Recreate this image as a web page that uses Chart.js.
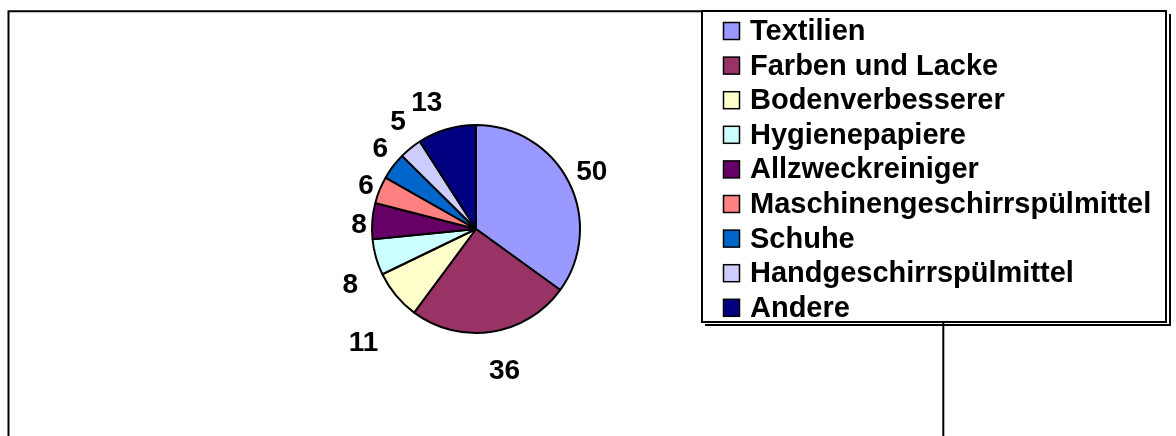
<!DOCTYPE html>
<html lang="de">

<head>
    <meta charset="UTF-8">
    <title>Produktgruppen</title>
    <script src="https://cdn.jsdelivr.net/npm/chart.js"></script>
    <style>
        body {
            margin: 0;
            background: #fff;
        }

        #wrap {
            width: 1176px;
            height: 436px;
        }
    </style>
</head>

<body>
    <div id="wrap"><canvas id="pieChart" width="1176" height="436"></canvas></div>

    <script>
        const categories = ["Textilien", "Farben und Lacke", "Bodenverbesserer", "Hygienepapiere",
            "Allzweckreiniger", "Maschinengeschirrspülmittel", "Schuhe", "Handgeschirrspülmittel", "Andere"
        ];
        const values = [50, 36, 11, 8, 8, 6, 6, 5, 13];
        const colors = ["#9999FF", "#993366", "#FFFFCC", "#CCFFFF", "#660066", "#FF8080", "#0066CC", "#CCCCFF",
            "#000080"
        ];

        // label placement outside the pie: extra distance (px) and angle turn (deg)
        const labelGap = [26, 39, 55, 33, 13, 15, 22, 30, 33];
        const labelTurn = [0, -2.7, -5.3, -7.6, -1.4, 0.4, 3.4, 3.5, -4.7];

        const FONT = '"Liberation Sans", Arial, sans-serif';

        const framePlugin = {
            id: 'frame',
            beforeDraw(chart) {
                const ctx = chart.ctx;
                ctx.save();
                ctx.strokeStyle = '#000';
                ctx.lineWidth = 2;
                ctx.beginPath();
                ctx.moveTo(8.5, 440);
                ctx.lineTo(8.5, 11.3);
                ctx.lineTo(943.3, 11.3);
                ctx.lineTo(943.3, 440);
                ctx.stroke();
                ctx.restore();
            }
        };

        const valueLabels = {
            id: 'valueLabels',
            afterDatasetsDraw(chart) {
                const ctx = chart.ctx;
                const meta = chart.getDatasetMeta(0);
                ctx.save();
                ctx.font = 'bold 28px ' + FONT;
                ctx.fillStyle = '#000';
                ctx.textAlign = 'center';
                ctx.textBaseline = 'alphabetic';
                meta.data.forEach((arc, i) => {
                    const mid = (arc.startAngle + arc.endAngle) / 2 + labelTurn[i] * Math.PI / 180;
                    const dist = arc.outerRadius + labelGap[i];
                    const x = arc.x + Math.cos(mid) * dist;
                    const y = arc.y + Math.sin(mid) * dist;
                    ctx.fillText(String(chart.data.datasets[0].data[i]), x, y + 10);
                });
                ctx.restore();
            }
        };

        const boxLegend = {
            id: 'boxLegend',
            afterDraw(chart) {
                const ctx = chart.ctx;
                const ds = chart.data.datasets[0];
                ctx.save();
                // shadow
                ctx.fillStyle = '#000';
                ctx.fillRect(705, 324, 466, 2);
                ctx.fillRect(1169, 14, 2, 312);
                // box
                ctx.fillStyle = '#fff';
                ctx.fillRect(702, 11, 464, 311);
                ctx.strokeStyle = '#000';
                ctx.lineWidth = 2;
                ctx.strokeRect(702, 11, 464, 311);

                ctx.font = 'bold 29px ' + FONT;
                ctx.textAlign = 'left';
                ctx.textBaseline = 'alphabetic';
                chart.data.labels.forEach((label, i) => {
                    const base = 40 + i * 34.6;
                    ctx.fillStyle = ds.backgroundColor[i];
                    ctx.fillRect(723.5, base - 17.5, 16, 17);
                    ctx.lineWidth = 1.5;
                    ctx.strokeRect(723.5, base - 17.5, 16, 17);
                    ctx.fillStyle = '#000';
                    ctx.fillText(label, 750, base);
                });
                ctx.restore();
            }
        };

        function createChart() {
            const ctx = document.getElementById('pieChart').getContext('2d');
            new Chart(ctx, {
                type: 'pie',
                data: {
                    labels: categories,
                    datasets: [{
                        data: values,
                        backgroundColor: colors,
                        borderColor: '#000',
                        borderWidth: 2
                    }]
                },
                options: {
                    responsive: false,
                    animation: false,
                    radius: 104,
                    layout: {
                        padding: {
                            left: 326,
                            right: 550,
                            top: 79,
                            bottom: 57
                        }
                    },
                    plugins: {
                        legend: {
                            display: false
                        },
                        tooltip: {
                            enabled: false
                        }
                    }
                },
                plugins: [framePlugin, valueLabels, boxLegend]
            });
        }

        createChart();
    </script>
</body>

</html>
